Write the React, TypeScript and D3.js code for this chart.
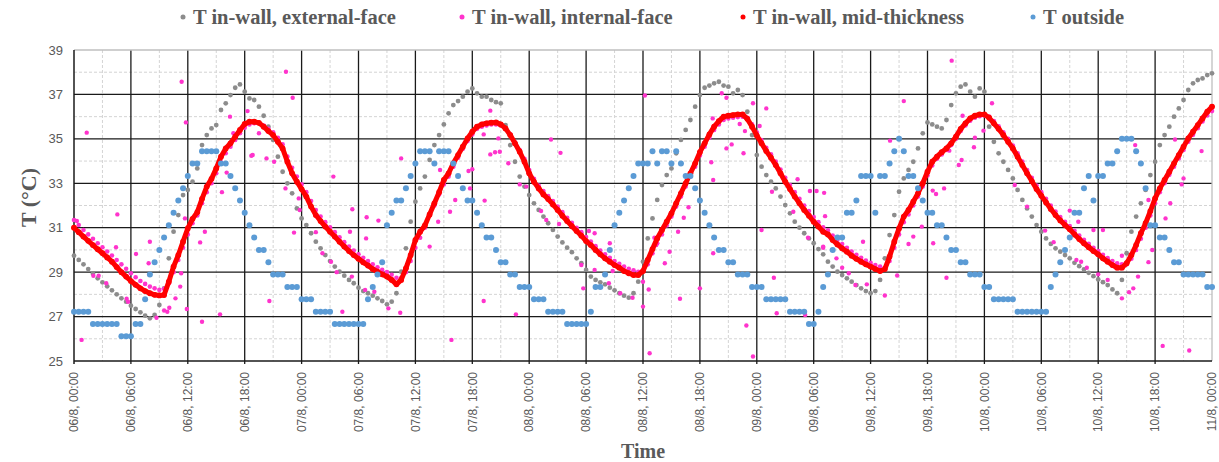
import React from "react";
import * as d3 from "d3";

const WIDTH = 1219;
const HEIGHT = 462;
const MARGIN = { top: 50, right: 7, bottom: 101, left: 74 };

// readings every 30 minutes, starting 06/8 00:00 (hours since start)
const STEP_H = 0.5;

// one row = 6 hours (12 readings), last value = 11/8 00:00
const tExternal = [
  29.74, 29.55, 29.35, 29.14, 28.93, 28.72, 28.54, 28.36, 28.18, 28.0, 27.82, 27.67,
  27.49, 27.34, 27.19, 27.04, 26.92, 27.07, 27.52, 28.27, 29.62, 30.82, 31.57, 32.47,
  32.7, 33.07, 33.67, 34.72, 35.17, 35.47, 35.62, 36.3, 36.6, 36.97, 37.3, 37.45,
  37.12, 36.82, 36.75, 36.45, 36.04, 35.55, 34.95, 34.2, 33.52, 33.0, 32.55, 31.87,
  31.42, 31.12, 30.75, 30.37, 30.07, 29.77, 29.5, 29.25, 29.02, 28.84, 28.65, 28.5,
  28.3, 28.15, 28.05, 27.94, 27.82, 27.7, 27.55, 27.67, 28.05, 29.02, 30.07, 31.27,
  32.17, 32.77, 33.3, 34.05, 34.72, 35.17, 35.65, 36.15, 36.52, 36.7, 36.9, 37.12,
  37.27, 37.05, 36.9, 36.9, 36.75, 36.65, 36.6, 35.62, 34.72, 33.97, 33.3, 32.85,
  32.47, 32.1, 31.8, 31.5, 31.2, 30.9, 30.6, 30.34, 30.1, 29.9, 29.62, 29.4,
  29.1, 28.8, 28.65, 28.54, 28.45, 28.3, 28.18, 28.05, 27.94, 27.85, 28.05, 28.57,
  29.47, 30.52, 31.42, 32.25, 32.92, 33.37, 33.67, 34.35, 34.95, 35.4, 35.85, 36.45,
  36.97, 37.3, 37.4, 37.5, 37.57, 37.4, 37.35, 37.05, 37.2, 36.97, 36.22, 35.17,
  34.27, 33.75, 33.37, 33.07, 32.77, 32.4, 32.02, 31.65, 31.27, 31.0, 30.75, 30.52,
  30.3, 30.04, 29.8, 29.47, 29.25, 29.02, 28.87, 28.72, 28.57, 28.42, 28.27, 28.15,
  28.05, 28.15, 28.65, 29.62, 30.67, 31.57, 32.62, 33.22, 33.6, 33.97, 34.57, 35.25,
  35.74, 35.65, 35.55, 35.47, 35.85, 36.52, 37.05, 37.35, 37.45, 37.12, 36.9, 37.27,
  37.12, 35.55, 34.87, 34.35, 33.97, 33.6, 33.22, 32.7, 32.25, 31.87, 31.5, 31.12,
  30.82, 30.52, 30.27, 30.07, 29.92, 29.77, 29.62, 29.42, 29.27, 29.12, 28.97, 28.82,
  28.67, 28.55, 28.42, 28.22, 28.05, 28.65, 29.85, 30.82, 31.5, 32.1, 32.7, 33.37,
  33.97, 34.72, 35.17, 35.55, 36.0, 36.37, 36.75, 37.2, 37.5, 37.65, 37.72, 37.87,
  37.95,
];

const tInternal = [
  31.35, 31.12, 30.9, 30.7, 30.5, 30.3, 30.12, 29.93, 29.75, 29.55, 29.35, 29.15,
  28.95, 28.77, 28.6, 28.47, 28.35, 28.27, 28.2, 28.25, 28.5, 29.0, 29.55, 30.1,
  30.7, 31.2, 31.55, 32.1, 32.6, 33.0, 33.45, 33.95, 34.35, 34.65, 34.95, 35.25,
  35.5, 35.65, 35.7, 35.7, 35.6, 35.45, 35.3, 35.05, 34.75, 34.2, 33.7, 33.3,
  32.95, 32.6, 32.2, 31.8, 31.5, 31.25, 31.02, 30.8, 30.57, 30.35, 30.15, 29.97,
  29.8, 29.65, 29.5, 29.35, 29.22, 29.1, 29.0, 28.88, 28.75, 28.75, 29.0, 29.5,
  30.1, 30.55, 31.0, 31.55, 32.0, 32.5, 32.95, 33.3, 33.75, 34.15, 34.55, 34.9,
  35.2, 35.45, 35.55, 35.6, 35.65, 35.65, 35.6, 35.45, 35.2, 34.85, 34.5, 34.1,
  33.6, 33.2, 32.9, 32.65, 32.42, 32.2, 31.95, 31.7, 31.45, 31.22, 31.0, 30.8,
  30.58, 30.38, 30.17, 29.97, 29.8, 29.65, 29.5, 29.38, 29.25, 29.15, 29.08, 29.02,
  29.05, 29.35, 29.85, 30.3, 30.7, 31.1, 31.5, 31.95, 32.4, 32.85, 33.3, 33.75,
  34.25, 34.65, 35.05, 35.4, 35.65, 35.85, 35.92, 35.95, 35.98, 36.0, 35.95, 35.65,
  35.3, 34.95, 34.6, 34.3, 33.98, 33.62, 33.25, 32.92, 32.6, 32.3, 32.0, 31.75,
  31.48, 31.25, 31.02, 30.88, 30.65, 30.45, 30.27, 30.1, 29.93, 29.78, 29.65, 29.52,
  29.42, 29.32, 29.25, 29.2, 29.5, 30.1, 30.7, 31.25, 31.6, 32.0, 32.4, 32.85,
  33.35, 33.8, 34.1, 34.3, 34.5, 34.72, 35.0, 35.35, 35.6, 35.82, 35.95, 36.02,
  36.05, 36.0, 35.8, 35.57, 35.3, 35.0, 34.7, 34.35, 33.98, 33.6, 33.25, 32.9,
  32.6, 32.3, 32.0, 31.73, 31.48, 31.27, 31.08, 30.86, 30.65, 30.46, 30.28, 30.1,
  29.95, 29.78, 29.63, 29.5, 29.4, 29.35, 29.35, 29.6, 30.0, 30.5, 31.0, 31.55,
  32.1, 32.6, 33.0, 33.38, 33.75, 34.12, 34.5, 34.87, 35.18, 35.48, 35.78, 36.05,
  36.25,
];

// scattered internal-face readings away from the main trace [hour, °C]
const internalStray = [
  [0.3, 31.3], [0.8, 25.95], [1.34, 35.28], [2.04, 28.84], [2.6, 28.84], [3.4, 28.5],
  [4.43, 30.12], [4.57, 31.6], [5.55, 27.8], [5.7, 27.67], [6.54, 29.82], [7.87, 29.4],
  [8.0, 30.37], [8.7, 26.95], [9.5, 27.27], [9.84, 27.22], [10.05, 27.4], [10.7, 27.82],
  [11.2, 28.35], [11.3, 28.95], [11.35, 37.57], [11.7, 31.42], [11.8, 35.74], [11.9, 27.34],
  [13.3, 30.34], [13.5, 26.77], [13.8, 30.82], [15.4, 27.1], [15.6, 32.6], [16.1, 33.48],
  [16.45, 36.0], [16.8, 35.25], [18.3, 36.25], [18.7, 34.24],
  [18.84, 34.27], [19.5, 35.25], [20.3, 34.12], [20.6, 27.7], [21.1, 33.97], [22.3, 32.77],
  [22.35, 38.02], [23.06, 36.85], [23.2, 30.78], [23.7, 32.32], [23.8, 31.8], [25.5, 30.8],
  [26.2, 29.85], [27.1, 29.47], [27.35, 33.3], [27.7, 29.0], [28.3, 27.22], [29.1, 30.82],
  [29.3, 28.8], [29.35, 31.83], [30.7, 28.2], [30.8, 30.52], [30.86, 31.47], [31.67, 28.12],
  [32.1, 31.32], [33.15, 27.37], [34.4, 27.17], [34.5, 34.12], [37.5, 30.15], [38.4, 31.27],
  [38.6, 33.6],
  [39.65, 31.72], [39.8, 25.95], [40.2, 32.25], [41.6, 33.55], [41.76, 32.77], [42.0, 33.63],
  [43.2, 27.7], [43.2, 35.2], [43.3, 32.22], [43.9, 36.27], [43.9, 34.3], [44.4, 34.4],
  [44.75, 35.02], [44.9, 34.42], [45.8, 33.9], [46.6, 27.1], [47.0, 32.95], [47.7, 32.85],
  [49.25, 31.75], [49.8, 31.35], [50.3, 34.97], [51.15, 31.17], [51.3, 34.37], [53.5, 29.32],
  [53.7, 28.27], [54.3, 30.85], [54.9, 30.75], [54.9, 29.1], [56.4, 28.5], [56.5, 30.3],
  [56.8, 29.05], [57.6, 28.05],
  [58.9, 27.85], [60.0, 27.45], [60.0, 28.57], [60.2, 36.95], [60.6, 28.22], [60.7, 25.35],
  [61.2, 30.55], [61.4, 30.22], [62.3, 29.4], [62.8, 29.92], [63.7, 30.82], [63.9, 27.8],
  [64.3, 31.45], [64.8, 31.92], [65.5, 32.77], [66.0, 28.27], [67.2, 33.95], [67.35, 35.92],
  [67.4, 29.85], [67.4, 33.15], [68.3, 37.05], [68.8, 36.85], [68.8, 34.57], [69.35, 34.75],
  [70.2, 35.67], [70.6, 34.35], [70.75, 35.35], [70.9, 26.6], [71.6, 25.2], [71.6, 36.6],
  [72.3, 35.58], [72.5, 30.9], [73.0, 36.37], [73.6, 32.62], [73.8, 28.75], [74.1, 27.15],
  [75.85, 31.72], [76.3, 33.18], [77.1, 27.07], [77.4, 30.55], [77.6, 32.65], [78.3, 32.65],
  [79.0, 30.1], [79.0, 30.15], [79.1, 32.57], [79.2, 31.52], [80.4, 29.62], [81.0, 29.2],
  [81.7, 28.95], [82.4, 28.42], [83.2, 30.37], [83.6, 28.45], [85.5, 27.95], [86.05, 34.92],
  [86.8, 28.85], [87.5, 36.7], [88.0, 30.27], [88.5, 30.6], [89.4, 31.05], [90.55, 32.67],
  [90.6, 30.3], [90.9, 32.52], [91.75, 32.77], [92.0, 28.75], [92.3, 34.47], [92.55, 38.52],
  [93.3, 33.82], [93.6, 34.05], [93.7, 36.04], [94.9, 34.62], [95.0, 35.05], [95.9, 35.37],
  [96.8, 36.6],
  [99.2, 32.92], [100.5, 31.95], [102.4, 30.87], [103.3, 30.35], [105.0, 31.77], [105.7, 29.55],
  [105.9, 31.27], [106.2, 29.47], [106.8, 29.2], [107.5, 30.9], [108.0, 28.9], [108.5, 30.9],
  [109.0, 28.65], [110.5, 27.82], [110.5, 29.74], [111.25, 28.1], [111.7, 28.27], [111.9, 34.72],
  [112.2, 28.8], [113.3, 29.45], [113.3, 32.25], [113.7, 30.0], [114.8, 25.68], [115.1, 31.42],
  [115.6, 32.1], [116.1, 34.97], [116.8, 32.95], [117.0, 33.22], [117.6, 25.47], [118.9, 34.45],
];

const tMid = [
  31.0, 30.8, 30.6, 30.41, 30.22, 30.03, 29.85, 29.66, 29.47, 29.23, 29.0, 28.8,
  28.6, 28.43, 28.27, 28.15, 28.05, 27.98, 27.95, 27.97, 28.57, 29.25, 29.77, 30.37,
  30.97, 31.4, 31.7, 32.3, 32.85, 33.2, 33.67, 34.2, 34.57, 34.8, 35.1, 35.4,
  35.67, 35.77, 35.77, 35.72, 35.55, 35.35, 35.17, 34.87, 34.57, 33.97, 33.45, 33.07,
  32.74, 32.4, 31.95, 31.57, 31.3, 31.05, 30.82, 30.6, 30.37, 30.15, 29.95, 29.77,
  29.6, 29.44, 29.3, 29.14, 29.02, 28.9, 28.8, 28.65, 28.45, 28.65, 29.17, 29.77,
  30.45, 30.82, 31.1, 31.6, 32.1, 32.6, 33.15, 33.45, 33.9, 34.27, 34.65, 35.02,
  35.32, 35.55, 35.65, 35.7, 35.73, 35.74, 35.65, 35.47, 35.17, 34.8, 34.42, 33.97,
  33.45, 33.07, 32.77, 32.5, 32.29, 32.05, 31.8, 31.54, 31.3, 31.07, 30.85, 30.64,
  30.4, 30.22, 30.0, 29.8, 29.62, 29.47, 29.32, 29.2, 29.05, 28.95, 28.87, 28.87,
  29.05, 29.55, 30.04, 30.52, 30.9, 31.27, 31.65, 32.1, 32.55, 33.0, 33.45, 33.9,
  34.4, 34.8, 35.2, 35.55, 35.8, 36.0, 36.04, 36.07, 36.1, 36.1, 35.9, 35.55,
  35.15, 34.8, 34.45, 34.15, 33.82, 33.45, 33.07, 32.74, 32.4, 32.1, 31.8, 31.54,
  31.27, 31.05, 30.82, 30.7, 30.45, 30.25, 30.07, 29.92, 29.74, 29.6, 29.47, 29.35,
  29.25, 29.14, 29.05, 29.14, 29.7, 30.37, 30.97, 31.5, 31.8, 32.17, 32.55, 33.0,
  33.52, 33.97, 34.2, 34.4, 34.57, 34.8, 35.1, 35.45, 35.7, 35.92, 36.04, 36.1,
  36.1, 35.95, 35.7, 35.45, 35.17, 34.87, 34.57, 34.2, 33.82, 33.45, 33.1, 32.74,
  32.44, 32.14, 31.84, 31.57, 31.33, 31.12, 30.93, 30.7, 30.49, 30.3, 30.12, 29.95,
  29.8, 29.62, 29.47, 29.32, 29.2, 29.2, 29.4, 29.77, 30.22, 30.75, 31.2, 31.75,
  32.32, 32.77, 33.15, 33.52, 33.9, 34.27, 34.65, 35.02, 35.32, 35.62, 35.92, 36.22,
  36.45,
];

// outside air, logged in whole °F so it steps by ~0.56 °C
const tOutside = [
  27.22, 27.22, 27.22, 27.22, 26.67, 26.67, 26.67, 26.67, 26.67, 26.67, 26.11, 26.11,
  26.11, 26.67, 26.67, 27.78, 28.89, 29.44, 30.0, 30.56, 31.11, 31.67, 32.22, 32.78,
  33.33, 33.89, 33.89, 34.44, 34.44, 34.44, 34.44, 33.89, 33.89, 33.33, 32.78, 32.22,
  31.67, 31.11, 30.56, 30.0, 30.0, 29.44, 28.89, 28.89, 28.89, 28.33, 28.33, 28.33,
  27.78, 27.78, 27.78, 27.22, 27.22, 27.22, 27.22, 26.67, 26.67, 26.67, 26.67, 26.67,
  26.67, 26.67, 27.78, 28.33, 28.89, 29.44, 31.11, 31.67, 32.22, 32.22, 32.78, 33.33,
  33.89, 34.44, 34.44, 34.44, 33.89, 34.44, 34.44, 34.44, 33.89, 33.33, 32.78, 32.22,
  32.22, 31.67, 31.11, 30.56, 30.56, 30.0, 29.44, 29.44, 28.89, 28.89, 28.33, 28.33,
  28.33, 27.78, 27.78, 27.78, 27.22, 27.22, 27.22, 27.22, 26.67, 26.67, 26.67, 26.67,
  26.67, 27.22, 28.33, 28.33, 28.89, 30.0, 31.11, 31.67, 32.22, 32.78, 33.33, 33.89,
  33.89, 33.89, 34.44, 33.89, 34.44, 34.44, 33.89, 34.44, 33.89, 33.33, 33.33, 32.78,
  32.22, 31.67, 31.11, 30.56, 30.0, 30.0, 29.44, 29.44, 28.89, 28.89, 28.89, 28.33,
  28.33, 28.33, 27.78, 27.78, 27.78, 27.78, 27.78, 27.22, 27.22, 27.22, 27.22, 26.67,
  26.67, 27.22, 28.33, 28.89, 30.0, 30.56, 30.56, 31.67, 31.67, 32.22, 33.33, 33.33,
  33.33, 31.67, 33.33, 33.33, 33.89, 34.44, 35.0, 34.44, 33.33, 33.33, 32.78, 32.22,
  31.67, 31.67, 31.11, 31.11, 30.56, 30.0, 30.0, 29.44, 29.44, 28.89, 28.89, 28.89,
  28.33, 28.33, 27.78, 27.78, 27.78, 27.78, 27.78, 27.22, 27.22, 27.22, 27.22, 27.22,
  27.22, 27.22, 28.33, 28.89, 29.44, 30.0, 30.56, 31.67, 31.67, 32.78, 33.33, 32.22,
  33.33, 33.33, 33.89, 33.89, 34.44, 35.0, 35.0, 35.0, 34.44, 33.89, 32.78, 31.11,
  31.11, 30.56, 30.56, 30.0, 29.44, 29.44, 28.89, 28.89, 28.89, 28.89, 28.89, 28.33,
  28.33,
];

const days = ["06/8", "07/8", "08/8", "09/8", "10/8"];
const hours = ["00:00", "06:00", "12:00", "18:00"];
const xTickLabels = [...days.flatMap((d) => hours.map((h) => `${d}, ${h}`)), "11/8, 00:00"];
const yTicks = [25, 27, 29, 31, 33, 35, 37, 39];
const yMinor = [26, 28, 30, 32, 34, 36, 38];

const legendItems = [
  { label: "T in-wall, external-face", color: "#8c8c8c", x: 183 },
  { label: "T in-wall, internal-face", color: "#ff33cc", x: 462 },
  { label: "T in-wall, mid-thickness", color: "#ff0000", x: 743 },
  { label: "T outside", color: "#5b9bd5", x: 1033 },
];

const TEXT_GREY = "#595959";

const App = () => {
  const x0 = MARGIN.left;
  const x1 = WIDTH - MARGIN.right;
  const y0 = MARGIN.top;
  const y1 = HEIGHT - MARGIN.bottom;

  const xScale = d3.scaleLinear().domain([0, 120]).range([x0, x1]);
  const yScale = d3.scaleLinear().domain([25, 39]).range([y1, y0]);

  const majorX = d3.range(0, 121, 6);
  const minorX = d3.range(3, 120, 6);

  const toPts = (arr: number[]) => arr.map((v, i) => [i * STEP_H, v] as [number, number]);
  const extPts = toPts(tExternal);
  const intPts = toPts(tInternal);
  const midPts = toPts(tMid);
  const outPts = toPts(tOutside);

  // mid-thickness readings are so dense in the original that they read as a line
  const midLine = d3
    .line<[number, number]>()
    .x((d) => xScale(d[0]))
    .y((d) => yScale(d[1]))
    .curve(d3.curveLinear);

  const dots = (pts: number[][], r: number, color: string, key: string) =>
    pts.map((d, i) => (
      <circle key={`${key}-${i}`} cx={xScale(d[0])} cy={yScale(d[1])} r={r} fill={color} />
    ));

  return (
    <svg
      width={WIDTH}
      height={HEIGHT}
      style={{ position: "absolute", left: 0, top: 0, background: "#fff" }}
    >
      <rect x={0} y={0} width={WIDTH} height={HEIGHT} fill="#fff" />

      {/* minor grid */}
      {yMinor.map((v) => (
        <line key={`ym-${v}`} x1={x0} x2={x1} y1={yScale(v)} y2={yScale(v)}
          stroke="#d4d4d4" strokeWidth={1} strokeDasharray="3 2" />
      ))}
      {minorX.map((h) => (
        <line key={`xm-${h}`} x1={xScale(h)} x2={xScale(h)} y1={y0} y2={y1}
          stroke="#d4d4d4" strokeWidth={1} strokeDasharray="3 2" />
      ))}

      {/* major grid */}
      {yTicks.filter((v) => v > 25 && v < 39).map((v) => (
        <line key={`yM-${v}`} x1={x0} x2={x1} y1={yScale(v)} y2={yScale(v)}
          stroke="#1a1a1a" strokeWidth={1.3} />
      ))}
      {majorX.filter((h) => h > 0 && h < 120).map((h) => (
        <line key={`xM-${h}`} x1={xScale(h)} x2={xScale(h)} y1={y0} y2={y1 + 3}
          stroke="#1a1a1a" strokeWidth={1.3} />
      ))}

      {/* frame */}
      <line x1={x0} x2={x1} y1={y0} y2={y0} stroke="#bfbfbf" strokeWidth={1.3} />
      <line x1={x1} x2={x1} y1={y0} y2={y1} stroke="#bfbfbf" strokeWidth={1.3} />
      <line x1={x0} x2={x0} y1={y0} y2={y1 + 3} stroke="#1a1a1a" strokeWidth={1.5} />
      <line x1={x0} x2={x1} y1={y1} y2={y1} stroke="#1a1a1a" strokeWidth={1.5} />

      {/* series */}
      <g>{dots(extPts, 2.4, "#8c8c8c", "ext")}</g>
      <g>{dots(intPts, 2.3, "#ff33cc", "int")}</g>
      <g>{dots(internalStray, 2.2, "#ff33cc", "stray")}</g>
      <path d={midLine(midPts) || ""} fill="none" stroke="#ff0000" strokeWidth={5}
        strokeLinejoin="round" strokeLinecap="round" />
      <g>{dots(midPts, 2.9, "#ff0000", "mid")}</g>
      <g>{dots(outPts, 3, "#5b9bd5", "out")}</g>

      {/* y axis labels */}
      {yTicks.map((v) => (
        <text key={`yl-${v}`} x={63} y={yScale(v)} dy="0.35em" textAnchor="end"
          fontFamily="Liberation Sans, Arial, sans-serif" fontSize={13} fill={TEXT_GREY}>
          {v}
        </text>
      ))}

      {/* x axis labels */}
      {majorX.map((h, i) => (
        <text key={`xl-${h}`} transform={`translate(${xScale(h)},${y1 + 11}) rotate(-90)`}
          dy="0.35em" textAnchor="end"
          fontFamily="Liberation Sans, Arial, sans-serif" fontSize={12} fill={TEXT_GREY}>
          {xTickLabels[i]}
        </text>
      ))}

      {/* axis titles */}
      <text transform={`translate(28,${(y0 + y1) / 2 - 8}) rotate(-90)`} textAnchor="middle"
        dy="0.35em" fontFamily="Liberation Serif, Times New Roman, serif" fontWeight="bold"
        fontSize={22} fill={TEXT_GREY}>
        T (°C)
      </text>
      <text x={(x0 + x1) / 2} y={458} textAnchor="middle"
        fontFamily="Liberation Serif, Times New Roman, serif" fontWeight="bold"
        fontSize={20} fill={TEXT_GREY}>
        Time
      </text>

      {/* legend */}
      {legendItems.map((item) => (
        <g key={item.label}>
          <circle cx={item.x} cy={17} r={2.5} fill={item.color} />
          <text x={item.x + 10} y={24}
            fontFamily="Liberation Serif, Times New Roman, serif" fontWeight="bold"
            fontSize={20.5} fill={TEXT_GREY}>
            {item.label}
          </text>
        </g>
      ))}
    </svg>
  );
};

export default App;
